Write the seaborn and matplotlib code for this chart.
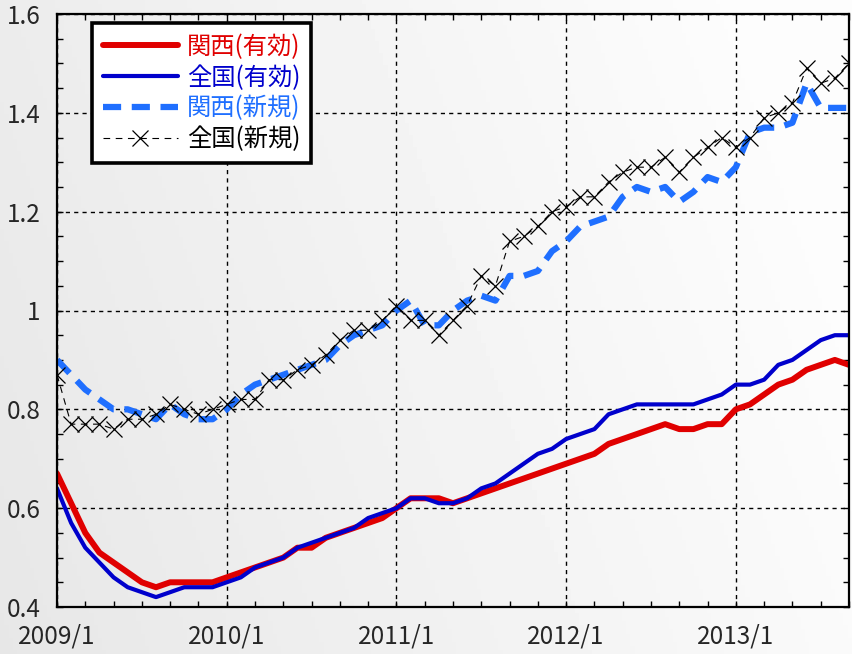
import numpy as np
import pandas as pd
import matplotlib
matplotlib.use("Agg")
import matplotlib.pyplot as plt
import seaborn as sns
from matplotlib.ticker import MultipleLocator

# monthly index, 2009/1 .. 2013/9
month = list(range(57))
year_ticks = [0, 12, 24, 36, 48]
year_labels = ["2009/1", "2010/1", "2011/1", "2012/1", "2013/1"]
y_ticks = [0.4, 0.6, 0.8, 1.0, 1.2, 1.4, 1.6]
y_labels = ["0.4", "0.6", "0.8", "1", "1.2", "1.4", "1.6"]

# 関西(有効)
kansai_eff = [
    0.67, 0.61, 0.55, 0.51, 0.49, 0.47, 0.45, 0.44, 0.45, 0.45, 0.45, 0.45,
    0.46, 0.47, 0.48, 0.49, 0.50, 0.52, 0.52, 0.54, 0.55, 0.56, 0.57, 0.58,
    0.60, 0.62, 0.62, 0.62, 0.61, 0.62, 0.63, 0.64, 0.65, 0.66, 0.67, 0.68,
    0.69, 0.70, 0.71, 0.73, 0.74, 0.75, 0.76, 0.77, 0.76, 0.76, 0.77, 0.77,
    0.80, 0.81, 0.83, 0.85, 0.86, 0.88, 0.89, 0.90, 0.89,
]
# 全国(有効)
zenkoku_eff = [
    0.64, 0.57, 0.52, 0.49, 0.46, 0.44, 0.43, 0.42, 0.43, 0.44, 0.44, 0.44,
    0.45, 0.46, 0.48, 0.49, 0.50, 0.52, 0.53, 0.54, 0.55, 0.56, 0.58, 0.59,
    0.60, 0.62, 0.62, 0.61, 0.61, 0.62, 0.64, 0.65, 0.67, 0.69, 0.71, 0.72,
    0.74, 0.75, 0.76, 0.79, 0.80, 0.81, 0.81, 0.81, 0.81, 0.81, 0.82, 0.83,
    0.85, 0.85, 0.86, 0.89, 0.90, 0.92, 0.94, 0.95, 0.95,
]
# 関西(新規)
kansai_new = [
    0.90, 0.87, 0.84, 0.82, 0.80, 0.80, 0.79, 0.78, 0.81, 0.79, 0.78, 0.78,
    0.80, 0.83, 0.85, 0.86, 0.87, 0.88, 0.89, 0.90, 0.93, 0.95, 0.96, 0.97,
    1.00, 1.02, 0.97, 0.97, 1.00, 1.02, 1.03, 1.02, 1.07, 1.07, 1.08, 1.12,
    1.14, 1.17, 1.18, 1.19, 1.23, 1.25, 1.24, 1.25, 1.22, 1.24, 1.27, 1.26,
    1.29, 1.36, 1.37, 1.37, 1.38, 1.46, 1.41, 1.41, 1.41,
]
# 全国(新規)
zenkoku_new = [
    0.87, 0.77, 0.77, 0.77, 0.76, 0.78, 0.78, 0.79, 0.81, 0.80, 0.79, 0.80,
    0.81, 0.82, 0.82, 0.86, 0.86, 0.88, 0.89, 0.91, 0.94, 0.96, 0.96, 0.98,
    1.01, 0.98, 0.98, 0.95, 0.98, 1.01, 1.07, 1.05, 1.14, 1.15, 1.17, 1.20,
    1.21, 1.23, 1.23, 1.26, 1.28, 1.29, 1.29, 1.31, 1.28, 1.31, 1.33, 1.35,
    1.33, 1.35, 1.39, 1.40, 1.42, 1.49, 1.46, 1.47, 1.50,
]

df = pd.DataFrame({
    "month": month,
    "kansai_eff": kansai_eff,
    "zenkoku_eff": zenkoku_eff,
    "kansai_new": kansai_new,
    "zenkoku_new": zenkoku_new,
})

sns.set_style("ticks")
plt.rcParams["font.family"] = ["Noto Sans CJK JP", "DejaVu Sans"]

fig = plt.figure(figsize=(8.52, 6.54), dpi=100)

# light grey gradient background (darker lower-left, near white upper-right)
bg = fig.add_axes([0, 0, 1, 1], zorder=-10)
gx, gy = np.meshgrid(np.linspace(0, 1, 200), np.linspace(1, 0, 160))
shade = np.clip(0.905 + 0.075 * gx + 0.02 * gy, 0, 0.99)
bg.imshow(shade, cmap="gray", vmin=0, vmax=1, aspect="auto", extent=(0, 1, 0, 1))
bg.axis("off")

ax = fig.add_axes([57 / 852, 47 / 654, 792 / 852, 593 / 654])
ax.patch.set_alpha(0)

red = "#e00000"
blue = "#0000cc"
light = "#1f6fff"

sns.lineplot(data=df, x="month", y="kansai_eff", ax=ax, color=red, lw=4.3,
             label="関西(有効)", zorder=3)
sns.lineplot(data=df, x="month", y="zenkoku_eff", ax=ax, color=blue, lw=3.0,
             label="全国(有効)", zorder=4)
sns.lineplot(data=df, x="month", y="kansai_new", ax=ax, color=light, lw=4.5,
             linestyle=(0, (2.9, 1.7)), dash_capstyle="butt",
             label="関西(新規)", zorder=5)
sns.lineplot(data=df, x="month", y="zenkoku_new", ax=ax, color="black", lw=0.8,
             linestyle=(0, (6, 5)), marker="x", markersize=12,
             markeredgewidth=0.9, markeredgecolor="black",
             label="全国(新規)", zorder=6)

ax.set_xlim(0, 56)
ax.set_ylim(0.4, 1.6)
ax.set_xticks(year_ticks, year_labels)
ax.set_yticks(y_ticks, y_labels)
ax.xaxis.set_minor_locator(MultipleLocator(2))
ax.yaxis.set_minor_locator(MultipleLocator(0.05))
ax.tick_params(which="both", direction="in", top=True, right=True,
               length=4, width=1, color="black")
ax.tick_params(axis="both", which="major", labelsize=17.5)
ax.tick_params(axis="y", pad=12)
ax.tick_params(axis="x", pad=12)
ax.set_xlabel("")
ax.set_ylabel("")
ax.grid(which="major", color="black", linestyle=(0, (3, 3)), linewidth=1.0)
for sp in ax.spines.values():
    sp.set_color("black")
    sp.set_linewidth(1.6)
    sp.set_zorder(7)

leg = ax.legend(loc="upper left", bbox_to_anchor=(0.044, 0.985),
                borderaxespad=0, fontsize=17.5, handlelength=3.1,
                handletextpad=0.35, labelspacing=0.2, borderpad=0.45,
                fancybox=False, framealpha=1, edgecolor="black")
leg.get_frame().set_linewidth(2.6)
leg.set_zorder(10)
for txt, col in zip(leg.get_texts(), [red, blue, light, "black"]):
    txt.set_color(col)

fig.savefig("out.png", dpi=100)
